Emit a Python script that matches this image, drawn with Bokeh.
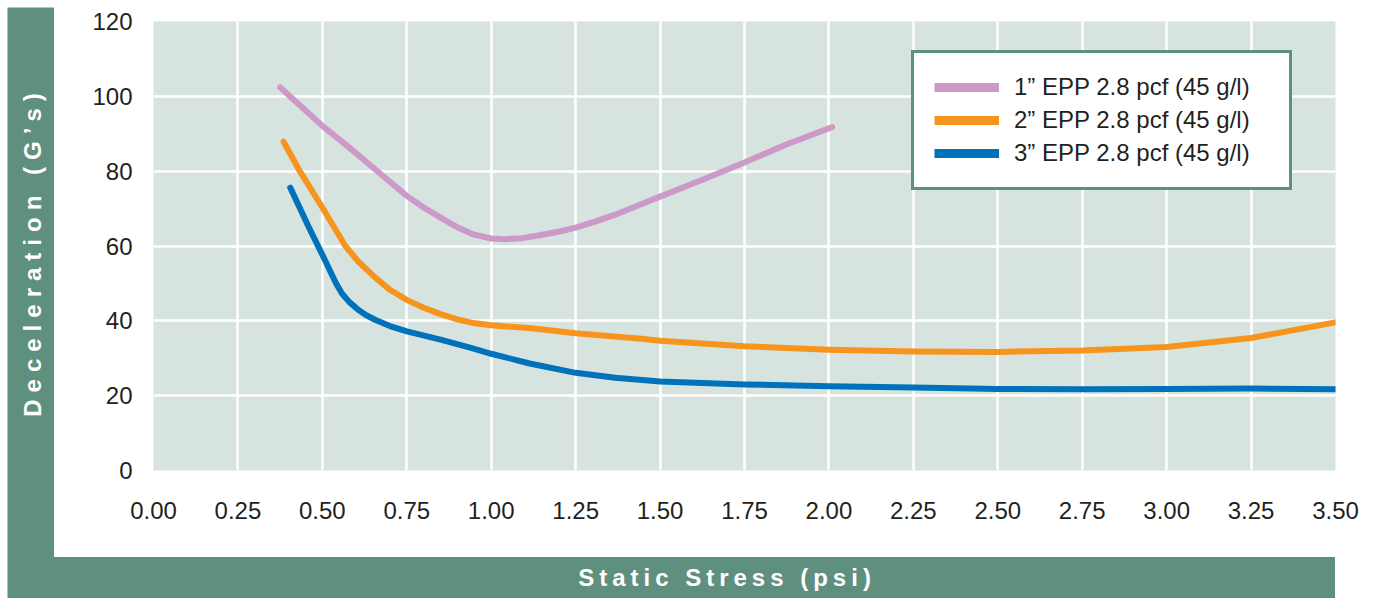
import math
from bokeh.plotting import figure
from bokeh.models import Range1d, FixedTicker, Legend, LegendItem, Label
from bokeh.layouts import row, column
from bokeh.embed import file_html
from bokeh.resources import INLINE

# ---------------- data ----------------
x_ticks = [0.0, 0.25, 0.5, 0.75, 1.0, 1.25, 1.5, 1.75, 2.0, 2.25, 2.5, 2.75, 3.0, 3.25, 3.5]
x_tick_labels = ["0.00", "0.25", "0.50", "0.75", "1.00", "1.25", "1.50", "1.75", "2.00",
                 "2.25", "2.50", "2.75", "3.00", "3.25", "3.50"]
y_ticks = [0, 20, 40, 60, 80, 100, 120]

series_names = ["1\u201d EPP 2.8 pcf (45 g/l)",
                "2\u201d EPP 2.8 pcf (45 g/l)",
                "3\u201d EPP 2.8 pcf (45 g/l)"]

pink_x = [0.375, 0.43, 0.5, 0.6, 0.685, 0.75, 0.80, 0.85, 0.90, 0.947, 1.0, 1.04, 1.09,
          1.14, 1.2, 1.25, 1.31, 1.38, 1.44, 1.5, 1.62, 1.75, 1.87, 2.01]
pink_y = [102.4, 97.9, 92.1, 84.8, 78.3, 73.4, 70.3, 67.6, 65.0, 63.1, 62.0, 61.8, 62.1,
          62.8, 63.8, 64.9, 66.6, 68.8, 71.0, 73.2, 77.5, 82.3, 87.0, 91.8]

orange_x = [0.385, 0.43, 0.5, 0.568, 0.607, 0.656, 0.70, 0.75, 0.80, 0.85, 0.90, 0.947, 1.0,
            1.12, 1.25, 1.445, 1.5, 1.75, 2.0, 2.25, 2.5, 2.75, 3.0, 3.25, 3.5]
orange_y = [87.9, 80.5, 70.3, 60.0, 55.8, 51.6, 48.3, 45.6, 43.5, 41.8, 40.4, 39.4, 38.8,
            38.0, 36.7, 35.2, 34.7, 33.2, 32.3, 31.8, 31.7, 32.1, 33.0, 35.4, 39.6]

blue_x = [0.405, 0.46, 0.51, 0.525, 0.54, 0.558, 0.58, 0.607, 0.63, 0.656, 0.70, 0.75, 0.85,
          0.94, 1.0, 1.114, 1.25, 1.367, 1.5, 1.75, 2.0, 2.25, 2.5, 2.75, 3.0, 3.25, 3.5]
blue_y = [75.6, 65.0, 55.8, 52.9, 50.1, 47.3, 45.0, 42.9, 41.5, 40.3, 38.6, 37.2, 35.0,
          32.8, 31.2, 28.6, 26.1, 24.8, 23.8, 23.0, 22.5, 22.2, 21.8, 21.7, 21.8, 21.9, 21.7]

# ---------------- styles ----------------
GREEN = "#5f8f7e"
BG = "#d7e3df"
PINK = "#cc99c8"
ORANGE = "#f7941d"
BLUE = "#0072bc"
FONT = "Liberation Sans"
TXT = "#231f20"

# ---------------- main plot ----------------
p = figure(width=1330, height=557, x_range=Range1d(0, 3.5), y_range=Range1d(0, 120),
           output_backend="svg", toolbar_location=None, title=None,
           min_border_left=99, min_border_right=49, min_border_top=21, min_border_bottom=87,
           background_fill_color=BG, border_fill_color="white", outline_line_color=None)

for ax in (p.xaxis[0], p.yaxis[0]):
    ax.axis_line_color = None
    ax.major_tick_in = 0
    ax.major_tick_out = 0
    ax.minor_tick_in = 0
    ax.minor_tick_out = 0
    ax.major_label_text_font = FONT
    ax.major_label_text_font_size = "24px"
    ax.major_label_text_color = TXT

p.xaxis.ticker = FixedTicker(ticks=x_ticks)
p.xaxis.major_label_overrides = {t: l for t, l in zip(x_ticks, x_tick_labels)}
p.xaxis.major_label_standoff = 31
p.yaxis.ticker = FixedTicker(ticks=y_ticks)
p.yaxis.major_label_standoff = 21

p.xgrid.ticker = FixedTicker(ticks=x_ticks)
p.ygrid.ticker = FixedTicker(ticks=y_ticks)
for g in (p.xgrid[0], p.ygrid[0]):
    g.grid_line_color = "white"
    g.grid_line_width = 2.5

colors = [PINK, ORANGE, BLUE]
curves = [(pink_x, pink_y), (orange_x, orange_y), (blue_x, blue_y)]
items = []
nan = float("nan")
for (xs, ys), c, name in zip(curves, colors, series_names):
    p.line(xs, ys, line_color=c, line_width=6, line_cap="round", line_join="round")
    # legend swatch only (thicker bar, as in the original key); holds no data point
    key = p.line([nan], [nan], line_color=c, line_width=9)
    items.append(LegendItem(label=name, renderers=[key]))

legend = Legend(items=items, location=(758, 280), orientation="vertical",
                glyph_width=65, glyph_height=20, label_height=20, label_width=255,
                label_standoff=15, spacing=5, padding=20, margin=0,
                label_text_font=FONT, label_text_font_size="24px", label_text_color=TXT,
                border_line_color=GREEN, border_line_width=3, border_line_alpha=1.0,
                background_fill_color="white", background_fill_alpha=1.0)
p.add_layout(legend)

# ---------------- left band ----------------
left = figure(width=54, height=598, x_range=Range1d(0, 47), y_range=Range1d(0, 591),
              x_axis_type=None, y_axis_type=None, output_backend="svg",
              toolbar_location=None, title=None,
              min_border_left=7, min_border_top=7, min_border_right=0, min_border_bottom=0,
              background_fill_color=GREEN, border_fill_color="white", outline_line_color=None,
              styles={"letter-spacing": "7px"})
left.grid.visible = False
left.add_layout(Label(x=25, y=284, text="Deceleration (G\u2019s)", angle=math.pi / 2,
                      text_align="center", text_baseline="middle", text_color="white",
                      text_font=FONT, text_font_style="bold", text_font_size="24px"))

# ---------------- bottom band ----------------
bottom = figure(width=1281, height=41, x_range=Range1d(0, 1133), y_range=Range1d(0, 41),
                x_axis_type=None, y_axis_type=None, output_backend="svg",
                toolbar_location=None, title=None,
                min_border_left=99, min_border_right=49, min_border_top=0, min_border_bottom=0,
                background_fill_color=None, border_fill_color=GREEN, border_fill_alpha=0.0,
                outline_line_color=None,
                styles={"letter-spacing": "5px", "background-color": GREEN})
bottom.grid.visible = False
bottom.add_layout(Label(x=526, y=21, text="Static Stress (psi)",
                        text_align="center", text_baseline="middle", text_color="white",
                        text_font=FONT, text_font_style="bold", text_font_size="24px"))

layout = row(left, column(p, bottom, spacing=0), spacing=0)

open("out.html", "w").write(file_html(layout, INLINE))
